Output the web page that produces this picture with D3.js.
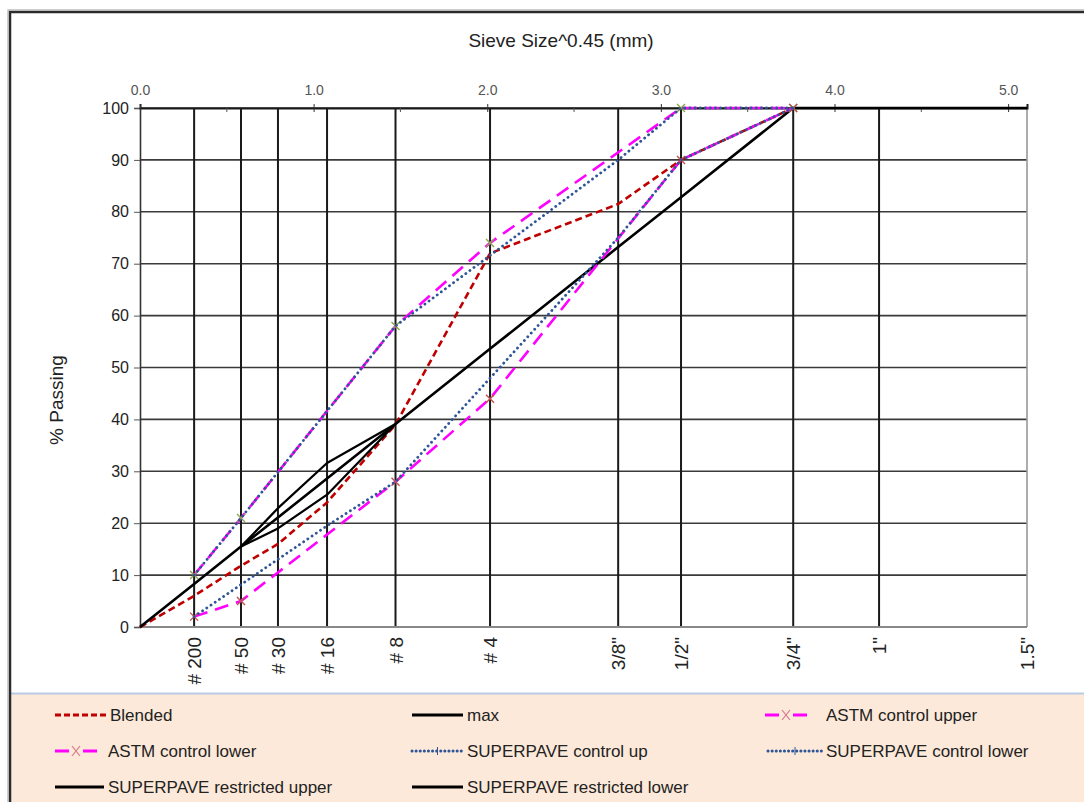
<!DOCTYPE html>
<html>
<head>
<meta charset="utf-8">
<script src="https://cdn.jsdelivr.net/npm/d3@7/dist/d3.min.js"></script>
<style>
  html, body { margin: 0; padding: 0; background: #ffffff; }
  svg { display: block; font-family: "Liberation Sans", Arial, sans-serif; }
</style>
</head>
<body>
<svg id="chart" width="1084" height="802"></svg>
<script>
// ---------- DATA ----------
const sieveNames = ["# 200", "# 50", "# 30", "# 16", "# 8", "# 4", '3/8"', '1/2"', '3/4"', '1"', '1.5"'];
const sieveSizes = [0.075, 0.3, 0.6, 1.18, 2.36, 4.75, 9.5, 12.5, 19, 25, 37.5];
const topTicks = [0, 1, 2, 3, 4, 5];
const yTicks = [0, 10, 20, 30, 40, 50, 60, 70, 80, 90, 100];

// [sieve size (mm), % passing]
const blended  = [[0, 0], [0.075, 6], [0.3, 11.8], [0.6, 16], [1.18, 24], [2.36, 39], [4.75, 72], [9.5, 81.5], [12.5, 90], [19, 100]];
const maxLine  = [[0, 0], [0.075, 8.3], [0.3, 15.5], [0.6, 21.1], [1.18, 28.6], [2.36, 39.1], [4.75, 53.6], [9.5, 73.2], [12.5, 82.8], [19, 100], [25, 100], [37.5, 100]];
const astmUpper = [[0.075, 10], [0.3, 21], [2.36, 58], [4.75, 74], [12.5, 100], [19, 100]];
const astmLower = [[0.075, 2], [0.3, 5], [2.36, 28], [4.75, 44], [12.5, 90], [19, 100]];
const spUpper  = [[0.075, 10], [0.3, 21], [2.36, 58], [9.5, 90], [12.5, 100], [19, 100]];
const spLower  = [[0.075, 2], [1.18, 19.5], [2.36, 28], [9.5, 75], [12.5, 90], [19, 100]];
const rzUpper  = [[0.3, 15.5], [0.6, 22.9], [1.18, 31.6], [2.36, 39.1]];
const rzLower  = [[0.3, 15.5], [0.6, 19], [1.18, 25.5], [2.36, 39.1]];

const seriesNames = ["Blended", "max", "ASTM control upper", "ASTM control lower",
  "SUPERPAVE control up", "SUPERPAVE control lower", "SUPERPAVE restricted upper", "SUPERPAVE restricted lower"];

// ---------- STYLES ----------
const styles = [
  { data: blended,   color: "#c00000", width: 2.6, dash: "7,4", cap: "butt", marker: null },
  { data: maxLine,   color: "#000000", width: 2.6, dash: null, cap: "butt", marker: null },
  { data: astmUpper, color: "#ff00ff", width: 2.6, dash: "14,8", cap: "butt", marker: "#8aa84a" },
  { data: astmLower, color: "#ff00ff", width: 2.6, dash: "14,8", cap: "butt", marker: "#c0504d" },
  { data: spUpper,   color: "#2f5597", width: 2.8, dash: "0.1,5", cap: "round", marker: null },
  { data: spLower,   color: "#2f5597", width: 2.8, dash: "0.1,5", cap: "round", marker: null },
  { data: rzUpper,   color: "#000000", width: 2.2, dash: null, cap: "butt", marker: null },
  { data: rzLower,   color: "#000000", width: 2.2, dash: null, cap: "butt", marker: null }
];

const svg = d3.select("#chart");
const L = 140, R = 1027, T = 108, B = 627;

const x = d3.scalePow().exponent(0.45).domain([0, d3.max(sieveSizes)]).range([L, R]);
const xTop = d3.scaleLinear().domain([0, Math.pow(d3.max(sieveSizes), 0.45)]).range([L, R]);
const y = d3.scaleLinear().domain([0, 100]).range([B, T]);

// background panels
svg.append("rect").attr("x", 0).attr("y", 0).attr("width", 1084).attr("height", 802).attr("fill", "#ffffff");
svg.append("rect").attr("x", 11).attr("y", 694).attr("width", 1080).attr("height", 110).attr("fill", "#fde9d9");
svg.append("line").attr("x1", 11).attr("x2", 1084).attr("y1", 693.5).attr("y2", 693.5)
  .attr("stroke", "#b9cbe4").attr("stroke-width", 2);
// outer frame
svg.append("rect").attr("x", 10).attr("y", 12).attr("width", 1100).attr("height", 820)
  .attr("fill", "none").attr("stroke", "#2b2b2b").attr("stroke-width", 2.5);
svg.append("rect").attr("x", 8).attr("y", 10).attr("width", 1104).attr("height", 824)
  .attr("fill", "none").attr("stroke", "#b0b0b0").attr("stroke-width", 1.2);

// title
svg.append("text").attr("x", 561).attr("y", 47).attr("text-anchor", "middle")
  .attr("font-size", 19).attr("fill", "#222").text("Sieve Size^0.45 (mm)");

// horizontal gridlines
svg.append("g").selectAll("line").data(yTicks).join("line")
  .attr("x1", L).attr("x2", R).attr("y1", d => y(d)).attr("y2", d => y(d))
  .attr("stroke", "#3a3a3a").attr("stroke-width", 1.6);

// vertical sieve lines
svg.append("g").selectAll("line").data(sieveSizes.slice(0, -1)).join("line")
  .attr("x1", d => x(d)).attr("x2", d => x(d)).attr("y1", T).attr("y2", B)
  .attr("stroke", "#1a1a1a").attr("stroke-width", 2);

// plot border right / bottom
svg.append("line").attr("x1", R).attr("x2", R).attr("y1", T).attr("y2", B).attr("stroke", "#999").attr("stroke-width", 1.6);
svg.append("line").attr("x1", L).attr("x2", R).attr("y1", B).attr("y2", B).attr("stroke", "#888").attr("stroke-width", 1.8);

// y axis
const yAxis = d3.axisLeft(y).tickValues(yTicks).tickSize(6).tickPadding(5).tickFormat(d3.format("d"));
const gy = svg.append("g").attr("transform", `translate(${L},0)`).call(yAxis);
gy.select(".domain").attr("stroke", "#333").attr("stroke-width", 1.6);
gy.selectAll(".tick line").attr("stroke", "#555");
gy.selectAll("text").attr("font-size", 16).attr("fill", "#222").attr("font-family", "Liberation Sans, Arial, sans-serif");

svg.append("text").attr("transform", "translate(63,400) rotate(-90)").attr("text-anchor", "middle")
  .attr("font-size", 19).attr("fill", "#222").text("% Passing");

// top axis
const topAxis = d3.axisTop(xTop).tickValues(topTicks).tickSize(4).tickPadding(9).tickFormat(d3.format(".1f"));
const gt = svg.append("g").attr("transform", `translate(0,${T})`).call(topAxis);
gt.select(".domain").attr("stroke", "#1a1a1a").attr("stroke-width", 2);
gt.selectAll(".tick line").attr("stroke", "#333").attr("y2", -4).attr("y1", 4);
gt.selectAll("text").attr("font-size", 14).attr("fill", "#555").attr("font-family", "Liberation Sans, Arial, sans-serif");
const minorTicks = d3.range(0.5, 5.1, 1);
svg.append("g").selectAll("line").data(minorTicks).join("line")
  .attr("x1", d => xTop(d)).attr("x2", d => xTop(d)).attr("y1", T).attr("y2", T + 4)
  .attr("stroke", "#555").attr("stroke-width", 1);

// bottom sieve labels
svg.append("g").selectAll("text").data(sieveSizes).join("text")
  .attr("transform", (d) => `translate(${x(d) + 7},${B + 10}) rotate(-90)`)
  .attr("text-anchor", "end").attr("font-size", 19).attr("fill", "#222")
  .text((d, i) => sieveNames[i]);

// series lines
const line = d3.line().x(d => x(d[0])).y(d => y(d[1]));
const clip = svg.append("g");
styles.forEach((s) => {
  clip.append("path").datum(s.data).attr("d", line)
    .attr("fill", "none").attr("stroke", s.color).attr("stroke-width", s.width)
    .attr("stroke-dasharray", s.dash).attr("stroke-linecap", s.cap).attr("stroke-linejoin", "round");
  if (s.marker) {
    const g = clip.append("g");
    s.data.forEach(p => {
      const cx = x(p[0]), cy = y(p[1]);
      g.append("path").attr("d", `M${cx - 4},${cy - 4}L${cx + 4},${cy + 4}M${cx - 4},${cy + 4}L${cx + 4},${cy - 4}`)
        .attr("stroke", s.marker).attr("stroke-width", 1.4).attr("fill", "none");
    });
  }
});

// legend
const legPos = [
  [55, 715, 110], [412, 715, 467], [765, 715, 826],
  [55, 751, 108], [412, 751, 467], [768, 751, 826],
  [55, 787, 108], [412, 787, 467]
];
const lg = svg.append("g");
seriesNames.forEach((name, i) => {
  const s = styles[i];
  const [x0, yy, tx] = legPos[i];
  const x1 = tx - 4;
  if (s.marker) {
    lg.append("line").attr("x1", x0).attr("x2", x0 + 14).attr("y1", yy).attr("y2", yy)
      .attr("stroke", s.color).attr("stroke-width", 3);
    lg.append("line").attr("x1", x0 + 28).attr("x2", x0 + 42).attr("y1", yy).attr("y2", yy)
      .attr("stroke", s.color).attr("stroke-width", 3);
    const cx = x0 + 21;
    lg.append("path").attr("d", `M${cx - 4},${yy - 5}L${cx + 4},${yy + 5}M${cx - 4},${yy + 5}L${cx + 4},${yy - 5}`)
      .attr("stroke", "#d9758a").attr("stroke-width", 1.2);
  } else {
    lg.append("line").attr("x1", x0).attr("x2", x1).attr("y1", yy).attr("y2", yy)
      .attr("stroke", s.color).attr("stroke-width", 3)
      .attr("stroke-dasharray", s.dash ? (s.cap === "round" ? "0.1,4" : "6,3") : null)
      .attr("stroke-linecap", s.cap);
    if (s.cap === "round") {
      const cx = (x0 + x1) / 2;
      lg.append("line").attr("x1", cx).attr("x2", cx).attr("y1", yy - 4).attr("y2", yy + 4)
        .attr("stroke", s.color).attr("stroke-width", 1);
    }
  }
  lg.append("text").attr("x", tx).attr("y", yy + 6).attr("font-size", 17).attr("fill", "#222").text(name);
});
</script>
</body>
</html>
